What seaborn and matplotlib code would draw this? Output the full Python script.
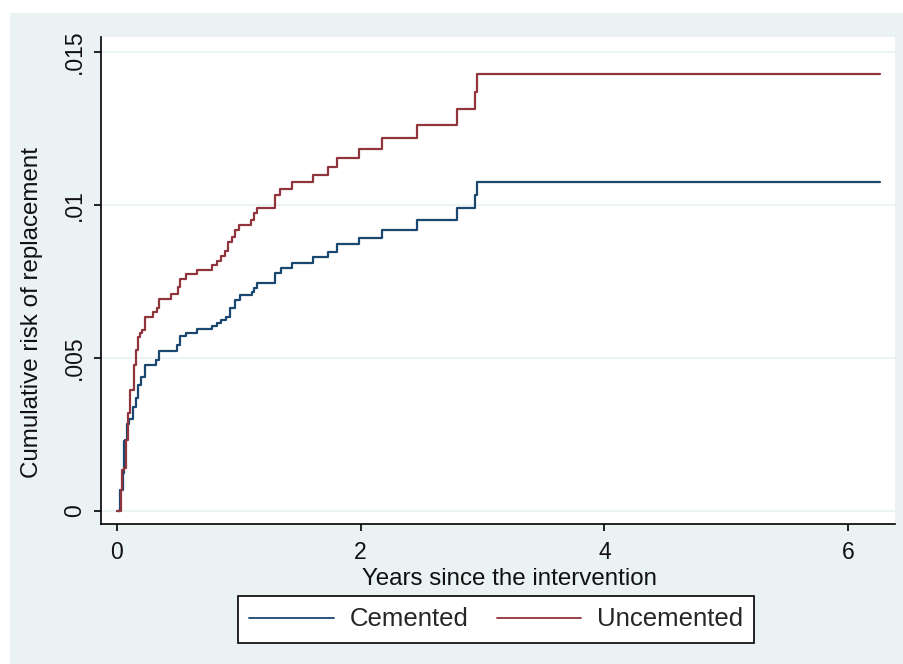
import matplotlib
matplotlib.use("Agg")
import matplotlib.pyplot as plt
from matplotlib.patches import Rectangle
import numpy as np
import pandas as pd
import seaborn as sns

# Cumulative risk of replacement (step function: value after each event time)
cemented_years = [0.0, 0.024, 0.047, 0.060, 0.066, 0.080, 0.101, 0.134, 0.156, 0.175,
                  0.195, 0.230, 0.320, 0.347, 0.490, 0.517, 0.567, 0.654, 0.778,
                  0.819, 0.851, 0.895, 0.925, 0.969, 1.010, 1.106, 1.125, 1.147,
                  1.297, 1.346, 1.434, 1.607, 1.735, 1.809, 1.987, 2.173, 2.461,
                  2.789, 2.939, 2.953, 6.265]
cemented_risk = [0.0, 0.00069, 0.00125, 0.00229, 0.00232, 0.00285, 0.00300, 0.00340,
                 0.00369, 0.00412, 0.00438, 0.00477, 0.00493, 0.00523, 0.00542,
                 0.00572, 0.00582, 0.00595, 0.00605, 0.00614, 0.00624, 0.00634,
                 0.00663, 0.00690, 0.00706, 0.00716, 0.00729, 0.00745, 0.00778,
                 0.00794, 0.00810, 0.00830, 0.00846, 0.00873, 0.00892, 0.00918,
                 0.00951, 0.00990, 0.01033, 0.01075, 0.01075]

uncemented_years = [0.0, 0.030, 0.039, 0.057, 0.074, 0.093, 0.107, 0.140, 0.156,
                    0.175, 0.189, 0.203, 0.230, 0.298, 0.326, 0.347, 0.441, 0.503,
                    0.517, 0.567, 0.654, 0.778, 0.819, 0.851, 0.887, 0.914, 0.942,
                    0.969, 1.004, 1.098, 1.125, 1.147, 1.297, 1.338, 1.434, 1.607,
                    1.735, 1.809, 1.987, 2.173, 2.461, 2.789, 2.939, 2.958, 6.265]
uncemented_risk = [0.0, 0.00069, 0.00134, 0.00141, 0.00232, 0.00320, 0.00395,
                   0.00477, 0.00526, 0.00569, 0.00582, 0.00592, 0.00634, 0.00650,
                   0.00663, 0.00693, 0.00709, 0.00732, 0.00758, 0.00775, 0.00788,
                   0.00804, 0.00817, 0.00833, 0.00850, 0.00879, 0.00895, 0.00918,
                   0.00935, 0.00951, 0.00974, 0.00990, 0.01033, 0.01052, 0.01075,
                   0.01098, 0.01124, 0.01154, 0.01183, 0.01219, 0.01261, 0.01314,
                   0.01369, 0.01428, 0.01428]

groups = ["Cemented", "Uncemented"]
colors = {"Cemented": "#1a476f", "Uncemented": "#90353b"}

x_ticks = [0, 2, 4, 6]
y_ticks = [0, 0.005, 0.01, 0.015]
y_tick_labels = ["0", ".005", ".01", ".015"]

df = pd.concat([
    pd.DataFrame({"years": cemented_years, "risk": cemented_risk, "group": "Cemented"}),
    pd.DataFrame({"years": uncemented_years, "risk": uncemented_risk, "group": "Uncemented"}),
], ignore_index=True)

sns.set_theme(style="white")
plt.rcParams["font.family"] = ["Liberation Sans", "DejaVu Sans"]

W, H = 904, 664
fig = plt.figure(figsize=(W / 100, H / 100), dpi=100, facecolor="white")
bg = "#eaf2f3"
fig.patches.append(Rectangle((10 / W, 0), 1 - 10 / W, 1 - 13 / H,
                             transform=fig.transFigure, facecolor=bg,
                             edgecolor="none", zorder=-5))

ax = fig.add_axes([101 / W, 1 - 524 / H, (895 - 101) / W, (524 - 37) / H])
ax.set_zorder(2)
ax.set_facecolor("white")

sns.lineplot(data=df, x="years", y="risk", hue="group", hue_order=groups,
             palette=colors, estimator=None, drawstyle="steps-post",
             linewidth=1.6, ax=ax)

ax.set_xlim(-0.1313, 6.386)
ax.set_ylim(-0.000425, 0.01549)
ax.set_xticks(x_ticks)
ax.set_xticklabels([str(t) for t in x_ticks])
ax.set_yticks(y_ticks)
ax.set_yticklabels(y_tick_labels, rotation=90, va="center")

for y in y_ticks:
    ax.axhline(y, color=bg, linewidth=1.3, zorder=0.5)

for side in ["top", "right"]:
    ax.spines[side].set_visible(False)
for side in ["left", "bottom"]:
    ax.spines[side].set_color("black")
    ax.spines[side].set_linewidth(1.2)

ax.tick_params(axis="both", which="major", direction="out", length=5,
               width=1.2, color="black", labelsize=16.5, labelcolor="#111111",
               left=True, bottom=True)
ax.tick_params(axis="y", pad=6)
ax.tick_params(axis="x", pad=7)

ax.set_xlabel("")
ax.set_ylabel("")
fig.text(510 / W, 1 - 579 / H, "Years since the intervention", ha="center",
         va="center", fontsize=17.4, color="#111111")
fig.text(32 / W, 1 - 312 / H, "Cumulative risk of replacement", ha="center",
         va="center", rotation=90, fontsize=17.4, color="#111111")

sns.move_legend(ax, "center", bbox_to_anchor=((496 - 101) / 794, (524 - 619.5) / 487),
                ncol=2, title=None, frameon=True, fontsize=18.5,
                handlelength=3.3, handletextpad=0.6, columnspacing=1.1,
                borderpad=0.45, fancybox=False)
leg = ax.get_legend()
leg.get_frame().set_edgecolor("black")
leg.get_frame().set_linewidth(1.2)
leg.get_frame().set_facecolor("white")
leg.get_frame().set_alpha(1.0)
for line in leg.get_lines():
    line.set_linewidth(1.3)

fig.savefig("out.png", dpi=100, facecolor="white")
